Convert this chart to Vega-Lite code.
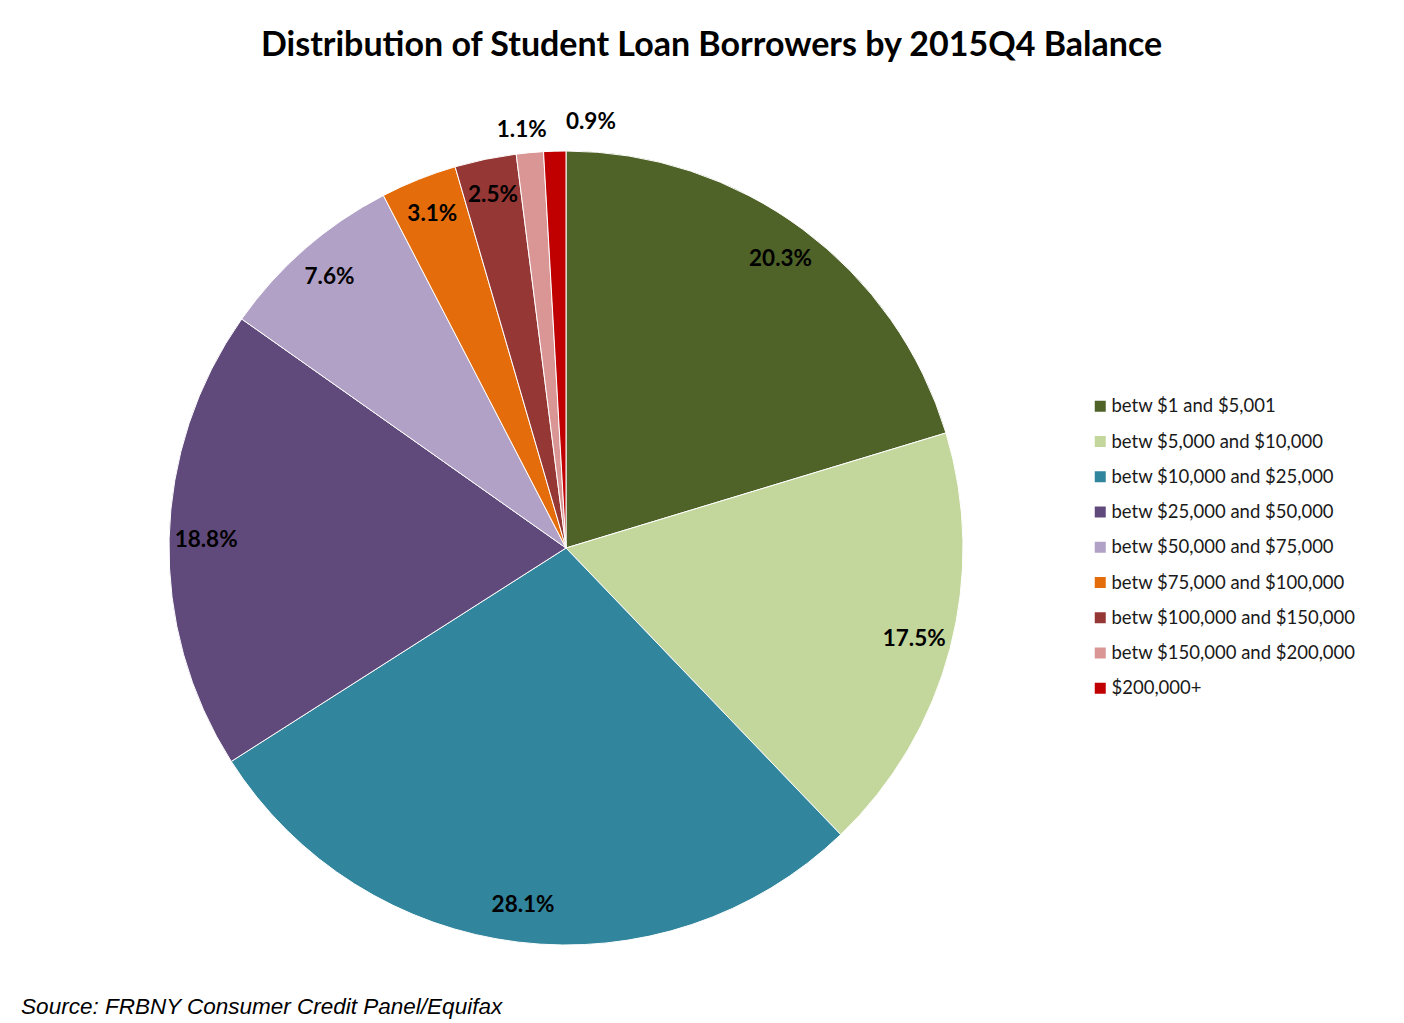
{
  "$schema": "https://vega.github.io/schema/vega-lite/v6.json",
  "background": "white",
  "padding": {"left": 21, "top": 29, "right": 0, "bottom": 0},
  "title": {
    "text": "Distribution of Student Loan Borrowers by 2015Q4 Balance",
    "font": "Lato",
    "fontSize": 34,
    "fontWeight": "bold",
    "color": "#000000",
    "anchor": "middle",
    "dx": 23,
    "offset": 48
  },
  "data": {
    "values": [
      {"idx": 1, "band": "betw $1 and $5,001", "share": 0.203},
      {"idx": 2, "band": "betw $5,000 and $10,000", "share": 0.175},
      {"idx": 3, "band": "betw $10,000 and $25,000", "share": 0.281},
      {"idx": 4, "band": "betw $25,000 and $50,000", "share": 0.188},
      {"idx": 5, "band": "betw $50,000 and $75,000", "share": 0.076},
      {"idx": 6, "band": "betw $75,000 and $100,000", "share": 0.031},
      {"idx": 7, "band": "betw $100,000 and $150,000", "share": 0.025},
      {"idx": 8, "band": "betw $150,000 and $200,000", "share": 0.011},
      {"idx": 9, "band": "$200,000+", "share": 0.009}
    ]
  },
  "vconcat": [
    {
      "width": 794,
      "height": 794,
      "title": {
        "text": "Source: FRBNY Consumer Credit Panel/Equifax",
        "orient": "bottom",
        "anchor": "start",
        "font": "Liberation Sans",
        "fontStyle": "italic",
        "fontWeight": "normal",
        "fontSize": 22.5,
        "color": "#000000",
        "dx": -119,
        "offset": 14
      },
      "encoding": {
        "theta": {"field": "share", "type": "quantitative", "stack": true},
        "order": {"field": "idx", "type": "quantitative"}
      },
      "layer": [
        {
          "mark": {"type": "arc", "stroke": "#ffffff", "strokeWidth": 1},
          "encoding": {
            "color": {
              "field": "band",
              "type": "nominal",
              "scale": {
                "domain": [
                  "betw $1 and $5,001",
                  "betw $5,000 and $10,000",
                  "betw $10,000 and $25,000",
                  "betw $25,000 and $50,000",
                  "betw $50,000 and $75,000",
                  "betw $75,000 and $100,000",
                  "betw $100,000 and $150,000",
                  "betw $150,000 and $200,000",
                  "$200,000+"
                ],
                "range": ["#4F6228", "#C3D69B", "#31859C", "#604A7B", "#B2A1C7", "#E46C0A", "#953735", "#D99694", "#C00000"]
              },
              "legend": {
                "title": null,
                "orient": "none",
                "legendX": 922,
                "legendY": 246,
                "symbolType": "square",
                "symbolSize": 121,
                "symbolStrokeWidth": 0,
                "labelFont": "Lato",
                "labelFontSize": 18.5,
                "labelColor": "#1a1a1a",
                "labelOffset": 2,
                "labelLimit": 400,
                "rowPadding": 16.25
              }
            }
          }
        },
        {
          "mark": {"type": "text", "radius": 360, "font": "Lato", "fontSize": 22.5, "fontWeight": "bold", "color": "#000000"},
          "encoding": {
            "text": {"condition": {"test": "datum.idx <= 7", "field": "share", "format": ".1%"}, "value": ""}
          }
        },
        {
          "mark": {"type": "text", "radius": 420, "font": "Lato", "fontSize": 22.5, "fontWeight": "bold", "color": "#000000", "dx": -6},
          "encoding": {
            "text": {"condition": {"test": "datum.idx == 8", "field": "share", "format": ".1%"}, "value": ""}
          }
        },
        {
          "mark": {"type": "text", "radius": 426, "align": "left", "dx": 12, "font": "Lato", "fontSize": 22.5, "fontWeight": "bold", "color": "#000000"},
          "encoding": {
            "text": {"condition": {"test": "datum.idx == 9", "field": "share", "format": ".1%"}, "value": ""}
          }
        }
      ]
    }
  ],
  "config": {"view": {"stroke": null}}
}
